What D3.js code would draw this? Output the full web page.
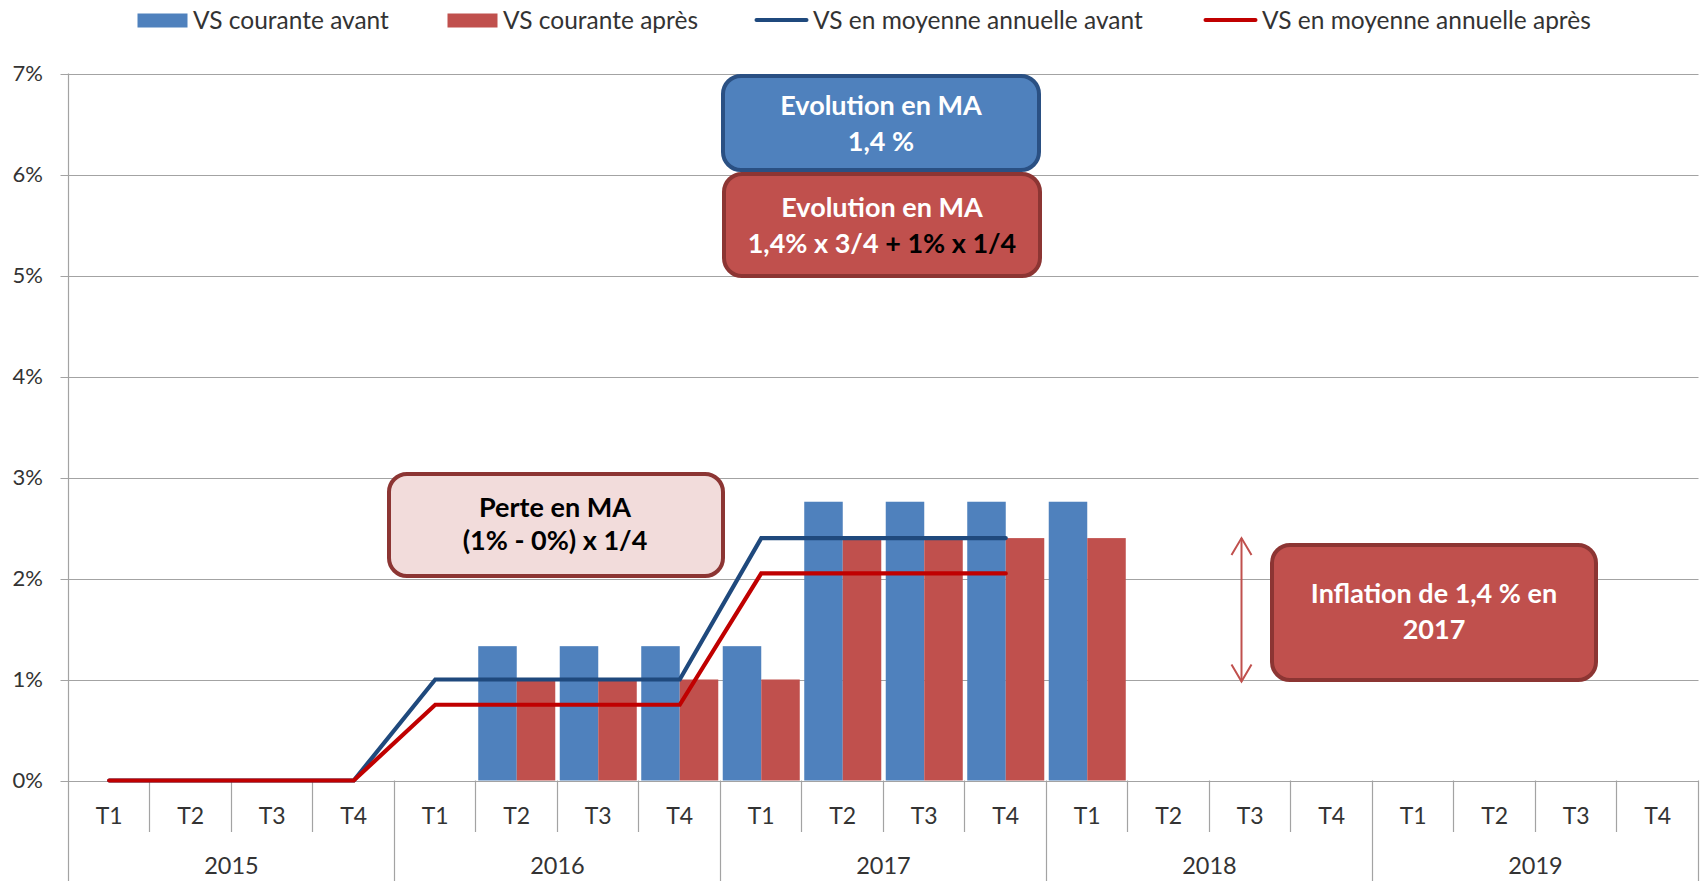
<!DOCTYPE html>
<html>
<head>
<meta charset="utf-8">
<script src="https://cdn.jsdelivr.net/npm/d3@7"></script>
<style>
  html, body { margin: 0; padding: 0; background: #fff; }
  svg { display: block; font-family: Lato, 'Open Sans', sans-serif; }
</style>
</head>
<body>
<div class="chart"></div>
<script>

const years = ['2015', '2016', '2017', '2018', '2019'];
const quarters = ['T1', 'T2', 'T3', 'T4'];

// VS courante (bars), one value per quarter, null = no bar
const vsAvant = [null, null, null, null, null, 1.33, 1.33, 1.33, 1.33, 2.76, 2.76, 2.76, 2.76, null, null, null, null, null, null, null];
const vsApres = [null, null, null, null, null, 1, 1, 1, 1, 2.4, 2.4, 2.4, 2.4, null, null, null, null, null, null, null];

// VS en moyenne annuelle (lines)
const moyAvant = [0, 0, 0, 0, 1, 1, 1, 1, 2.4, 2.4, 2.4, 2.4, null, null, null, null, null, null, null, null];
const moyApres = [0, 0, 0, 0, 0.75, 0.75, 0.75, 0.75, 2.05, 2.05, 2.05, 2.05, null, null, null, null, null, null, null, null];

const yTicks = [0, 1, 2, 3, 4, 5, 6, 7];

const seriesNames = ['VS courante avant', 'VS courante après', 'VS en moyenne annuelle avant', 'VS en moyenne annuelle après'];

const width = 1700;
const height = 881;

const blue = '#4f81bd';
const red = '#c0504d';
const navy = '#1f497d';
const darkRed = '#c00000';
const grid = '#a3a3a3';
const textCol = '#333';

const left = 68.5;
const right = 1698.5;

let labels = [];
years.forEach(y => quarters.forEach(q => labels.push({ year: y, q: q })));

let xScale = d3.scaleBand()
  .domain(d3.range(labels.length))
  .range([left, right]);

let yScale = d3.scaleLinear()
  .domain([0, 7])
  .range([780.5, 73.5]);

const svg = d3.select('.chart').append('svg')
  .attr('width', width)
  .attr('height', height);

// grid lines + y labels
svg.append('g')
  .selectAll('line')
  .data(yTicks)
  .join('line')
  .attr('x1', left - 8)
  .attr('x2', right)
  .attr('y1', d => Math.round(yScale(d)) + 0.5)
  .attr('y2', d => Math.round(yScale(d)) + 0.5)
  .attr('stroke', grid)
  .attr('stroke-width', 1.2);

svg.append('g')
  .selectAll('text')
  .data(yTicks)
  .join('text')
  .attr('x', 43)
  .attr('y', d => yScale(d))
  .attr('dy', '0.36em')
  .attr('text-anchor', 'end')
  .attr('font-size', 22)
  .attr('fill', textCol)
  .text(d => d + '%');

// y axis line
svg.append('line')
  .attr('x1', left).attr('x2', left)
  .attr('y1', yScale(7)).attr('y2', height)
  .attr('stroke', grid)
  .attr('stroke-width', 1.2);

// category axis: quarter ticks and year separators
const xAxis = svg.append('g');

xAxis.selectAll('line')
  .data(d3.range(1, labels.length + 1))
  .join('line')
  .attr('x1', i => Math.round(xScale(i - 1) + xScale.bandwidth()) - 0.5)
  .attr('x2', i => Math.round(xScale(i - 1) + xScale.bandwidth()) - 0.5)
  .attr('y1', yScale(0))
  .attr('y2', i => i % 4 === 0 ? height : 832)
  .attr('stroke', grid)
  .attr('stroke-width', 1.2);

xAxis.selectAll('text.q')
  .data(labels)
  .join('text')
  .attr('class', 'q')
  .attr('x', (d, i) => xScale(i) + xScale.bandwidth() / 2)
  .attr('y', 824)
  .attr('text-anchor', 'middle')
  .attr('font-size', 23)
  .attr('fill', textCol)
  .text(d => d.q);

xAxis.selectAll('text.y')
  .data(years)
  .join('text')
  .attr('class', 'y')
  .attr('x', (d, i) => xScale(i * 4) + xScale.bandwidth() * 2)
  .attr('y', 874)
  .attr('text-anchor', 'middle')
  .attr('font-size', 23.5)
  .attr('fill', textCol)
  .text(d => d);

// bars
const pad = xScale.bandwidth() * 0.0275;
const barW = (xScale.bandwidth() - 2 * pad) / 2;

svg.append('g')
  .selectAll('rect')
  .data(vsAvant.map((v, i) => ({ v, i })).filter(d => d.v != null))
  .join('rect')
  .attr('x', d => xScale(d.i) + pad)
  .attr('width', barW)
  .attr('y', d => yScale(d.v))
  .attr('height', d => yScale(0) - yScale(d.v))
  .attr('fill', blue);

svg.append('g')
  .selectAll('rect')
  .data(vsApres.map((v, i) => ({ v, i })).filter(d => d.v != null))
  .join('rect')
  .attr('x', d => xScale(d.i) + pad + barW)
  .attr('width', barW)
  .attr('y', d => yScale(d.v))
  .attr('height', d => yScale(0) - yScale(d.v))
  .attr('fill', red);

// lines
let line = d3.line()
  .defined(d => d.v != null)
  .x(d => xScale(d.i) + xScale.bandwidth() / 2)
  .y(d => yScale(d.v));

svg.append('path')
  .datum(moyAvant.map((v, i) => ({ v, i })))
  .attr('d', line)
  .attr('fill', 'none')
  .attr('stroke', navy)
  .attr('stroke-width', 4.2)
  .attr('stroke-linecap', 'round');

svg.append('path')
  .datum(moyApres.map((v, i) => ({ v, i })))
  .attr('d', line)
  .attr('fill', 'none')
  .attr('stroke', darkRed)
  .attr('stroke-width', 4.2)
  .attr('stroke-linecap', 'round');

// legend
const legend = svg.append('g');
const legX = [137.5, 447.5, 755.5, 1204.5];

seriesNames.forEach((name, i) => {
  let g = legend.append('g').attr('transform', 'translate(' + legX[i] + ',0)');
  if (i < 2) {
    g.append('rect')
      .attr('x', 0).attr('y', 13.5)
      .attr('width', 50).attr('height', 14)
      .attr('fill', i === 0 ? blue : red);
  } else {
    g.append('line')
      .attr('x1', 1).attr('x2', 51)
      .attr('y1', 20).attr('y2', 20)
      .attr('stroke', i === 2 ? navy : darkRed)
      .attr('stroke-width', 4)
      .attr('stroke-linecap', 'round');
  }
  g.append('text')
    .attr('x', i < 2 ? 55.5 : 57.5)
    .attr('y', 20)
    .attr('dy', '0.35em')
    .attr('font-size', 24.5)
    .attr('fill', textCol)
    .text(name);
});

// annotation boxes
const notes = svg.append('g');

const box = (x, y, w, h, fill, stroke) => {
  notes.append('rect')
    .attr('x', x).attr('y', y)
    .attr('width', w).attr('height', h)
    .attr('rx', 18)
    .attr('fill', fill)
    .attr('stroke', stroke)
    .attr('stroke-width', 4);
};

const boxText = (cx, y, parts) => {
  let t = notes.append('text')
    .attr('x', cx)
    .attr('y', y)
    .attr('text-anchor', 'middle')
    .attr('font-size', 27)
    .attr('font-weight', 'bold');
  parts.forEach(p => t.append('tspan').attr('fill', p[1]).text(p[0]));
};

box(723, 76, 316, 94, blue, '#2a5083');
boxText(881, 115, [['Evolution en MA', '#fff']]);
boxText(881, 151, [['1,4 %', '#fff']]);

box(724, 174, 316, 102, red, '#8c3533');
boxText(882, 216.5, [['Evolution en MA', '#fff']]);
boxText(882, 252.5, [['1,4% x 3/4 ', '#fff'], ['+ 1% x 1/4', '#000']]);

box(389, 474, 334, 102, '#f2dcdb', '#8c3533');
boxText(555, 516.5, [['Perte en MA', '#000']]);
boxText(555, 550, [['(1% - 0%) x 1/4', '#000']]);

box(1272, 545, 324, 135, red, '#8c3533');
boxText(1434, 602.5, [['Inflation de 1,4 % en', '#fff']]);
boxText(1434, 639, [['2017', '#fff']]);

// double arrow (1% -> 2,4%)
const ax = 1241.5;
const aTop = yScale(2.4);
const aBot = yScale(1) + 2;
const arrow = svg.append('g')
  .attr('stroke', red)
  .attr('stroke-width', 2)
  .attr('fill', 'none');

arrow.append('line')
  .attr('x1', ax).attr('x2', ax)
  .attr('y1', aTop).attr('y2', aBot);

arrow.append('path')
  .attr('d', d3.line()([[ax - 10, aTop + 17], [ax, aTop], [ax + 10, aTop + 17]]));

arrow.append('path')
  .attr('d', d3.line()([[ax - 10, aBot - 17], [ax, aBot], [ax + 10, aBot - 17]]));

</script>
</body>
</html>
